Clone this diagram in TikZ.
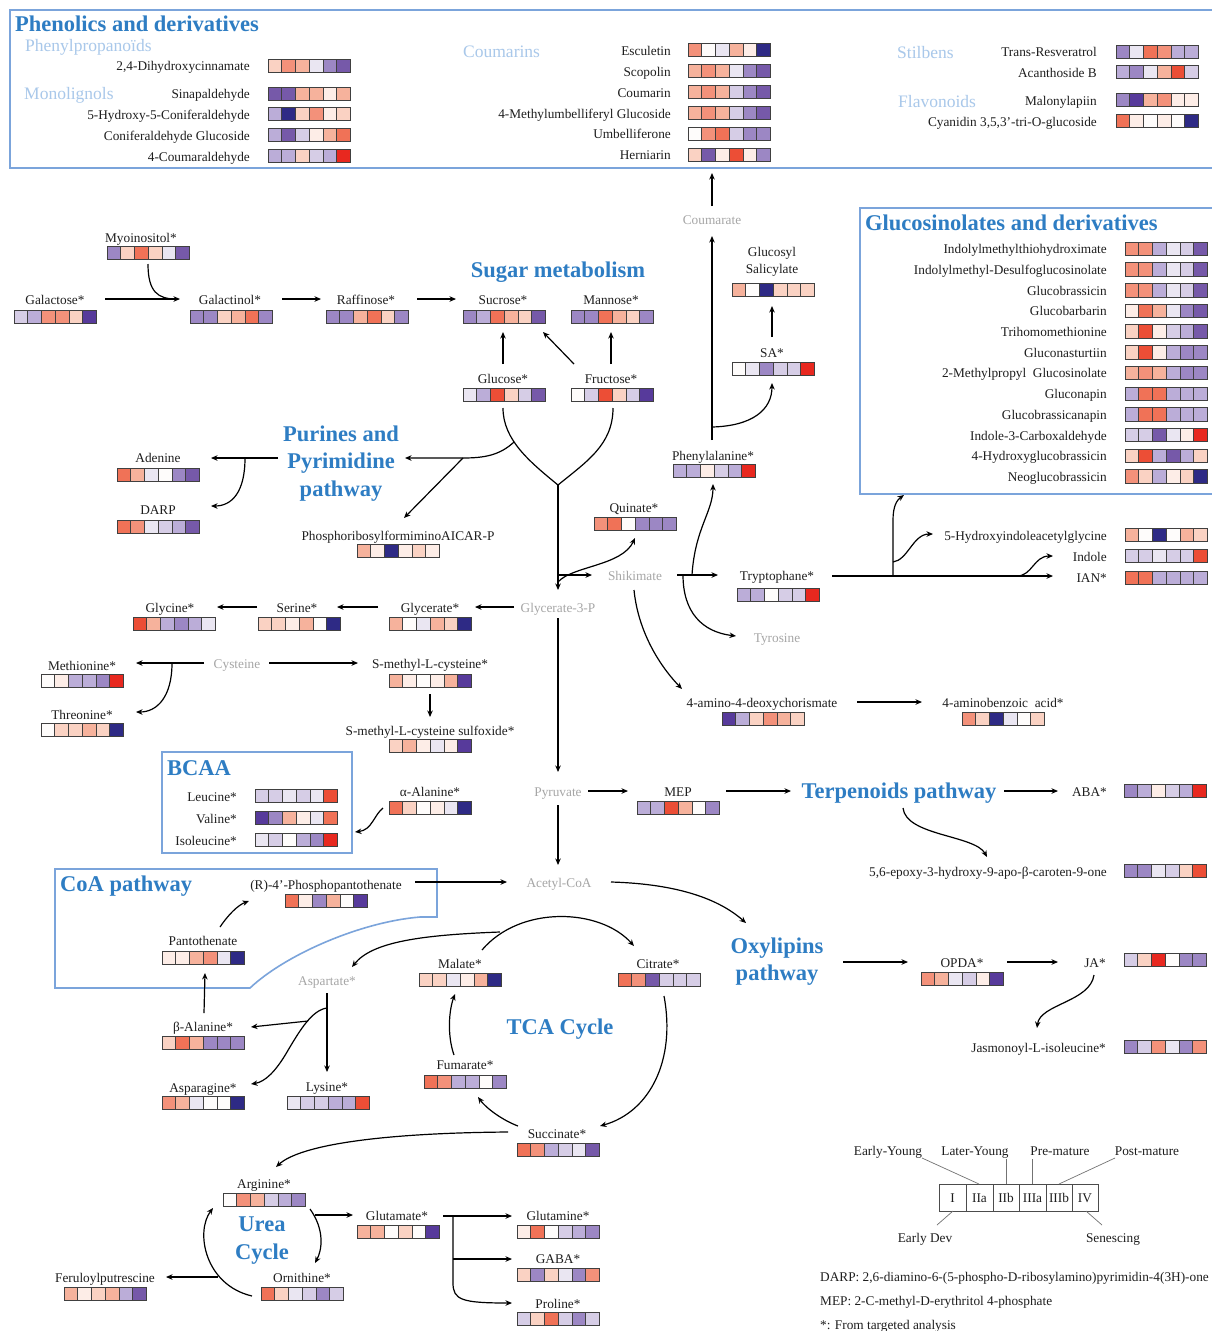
\documentclass[tikz,border=0pt]{standalone}
\usepackage{fontspec}
\setmainfont{Liberation Serif}
\usetikzlibrary{arrows.meta}
\definecolor{wh}{HTML}{FEFCFB}
\definecolor{r0}{HTML}{FDEDE7}
\definecolor{r1}{HTML}{FAD2C3}
\definecolor{r2}{HTML}{F6B29C}
\definecolor{r3}{HTML}{F3917A}
\definecolor{r4}{HTML}{F07257}
\definecolor{r5}{HTML}{EC4E36}
\definecolor{r6}{HTML}{E8281F}
\definecolor{b0}{HTML}{EAE6F2}
\definecolor{b1}{HTML}{D6CDE6}
\definecolor{b2}{HTML}{BBADD8}
\definecolor{b3}{HTML}{9C87C4}
\definecolor{b4}{HTML}{7659A9}
\definecolor{b5}{HTML}{573A9B}
\definecolor{b6}{HTML}{2E2A85}
\definecolor{titleblue}{HTML}{2E7DC3}
\definecolor{catblue}{HTML}{A9C8EA}
\definecolor{boxblue}{HTML}{7BA4DB}
\definecolor{greytxt}{HTML}{A6A6A6}
\definecolor{txt}{HTML}{1E1E1E}
\tikzset{
 lbl/.style={font=\fontsize{13.3}{16}\selectfont, text=txt, inner sep=0pt, text height=12pt, text depth=2pt},
 lblm/.style={font=\fontsize{13.3}{17}\selectfont, text=txt, inner sep=0pt, align=center},
 gry/.style={lbl, text=greytxt},
 ttl/.style={font=\fontsize{22.5}{27.5}\selectfont\bfseries, text=titleblue, inner sep=0pt, align=center, yshift=-2.5pt},
 cat/.style={font=\fontsize{17.5}{20}\selectfont, text=catblue, inner sep=0pt, yshift=-2pt},
 arr/.style={line width=1.2pt, -{Stealth[length=6.5pt,width=5.5pt]}},
 ln/.style={line width=1.2pt},
 boxl/.style={draw=boxblue, line width=1.6pt},
 hmline/.style={draw=black!75, line width=0.7pt},
 legl/.style={draw=black!70, line width=0.9pt},
 legt/.style={draw=black!55, line width=0.7pt}
}
\newcommand\hmap[3]{%
 \foreach \cc [count=\ii from 0] in {#3} {\fill[fill=\cc] ({#1+\ii*13.75},{#2}) rectangle ++(13.75,13.5);}
 \foreach \ii in {1,...,5} {\draw[hmline] ({#1+\ii*13.75},{#2}) -- ++(0,13.5);}
 \draw[hmline] ({#1},{#2}) rectangle ++(82.5,13.5);
}
\begin{document}
\begin{tikzpicture}[x=1pt,y=-1pt]
\useasboundingbox (0,0) rectangle (1211,1331);
\fill[white] (0,0) rectangle (1211,1331);

% ================= Phenolics box
\draw[boxl] (10,10) rectangle (1216,168);
\node[ttl,anchor=west] (tphen) at (15,21) {Phenolics and derivatives};
\node[cat,anchor=west] (cphen) at (25,45) {Phenylpropanoïds};
\node[cat,anchor=west] (cmono) at (24,93) {Monolignols};
\node[cat,anchor=west] (ccoum) at (463,50) {Coumarins};
\node[cat,anchor=west] (cstil) at (897,51) {Stilbens};
\node[cat,anchor=west] (cflav) at (898,100) {Flavonoids};
\node[lbl,anchor=east] (dhc) at (250,65) {2,4-Dihydroxycinnamate}; \hmap{268}{59}{r1,r3,r2,b0,b3,b4}
\node[lbl,anchor=east] (sin) at (250,93) {Sinapaldehyde}; \hmap{268}{87}{b4,b4,r2,r2,r0,r2}
\node[lbl,anchor=east] (hcon) at (250,114) {5-Hydroxy-5-Coniferaldehyde}; \hmap{268}{107}{b2,b6,r1,r3,r0,r1}
\node[lbl,anchor=east] (cong) at (250,135) {Coniferaldehyde Glucoside}; \hmap{268}{128}{b2,b4,b1,r0,r2,r4}
\node[lbl,anchor=east] (cmal) at (250,156) {4-Coumaraldehyde}; \hmap{268}{149}{b2,b2,r1,b1,b2,r6}
\node[lbl,anchor=east] (esc) at (671,50) {Esculetin}; \hmap{688}{43}{r3,wh,b0,r2,r0,b6}
\node[lbl,anchor=east] (scop) at (671,71) {Scopolin}; \hmap{688}{64}{r2,r3,r2,b0,b3,b4}
\node[lbl,anchor=east] (coumn) at (671,92) {Coumarin}; \hmap{688}{85}{r2,r3,r2,b1,b3,b4}
\node[lbl,anchor=east] (mug) at (671,113) {4-Methylumbelliferyl Glucoside}; \hmap{688}{106}{r2,r3,r2,b1,b3,b4}
\node[lbl,anchor=east] (umb) at (671,133) {Umbelliferone}; \hmap{688}{127}{wh,r3,r4,b1,b3,b3}
\node[lbl,anchor=east] (hern) at (671,154) {Herniarin}; \hmap{688}{148}{r1,b4,r0,r5,r0,b3}
\node[lbl,anchor=east] (tres) at (1097,51) {Trans-Resveratrol}; \hmap{1116}{45}{b3,b0,r4,r3,b2,b2}
\node[lbl,anchor=east] (acan) at (1097,72) {Acanthoside B}; \hmap{1116}{65}{b2,b3,b0,r2,r5,b1}
\node[lbl,anchor=east] (malo) at (1097,100) {Malonylapiin}; \hmap{1116}{93}{b3,b5,r2,r3,r0,r0}
\node[lbl,anchor=east] (cyan) at (1097,121) {Cyanidin 3,5,3’-tri-O-glucoside}; \hmap{1116}{114}{r4,r0,wh,r0,wh,b6}

% ================= Sugar
\node[ttl] (tsugar) at (558,270) {Sugar metabolism};
\node[lbl] (myo) at (141,237) {Myoinositol*}; \hmap{107}{246}{b3,r1,r4,r1,b0,b4}
\node[lbl] (galac) at (55,299) {Galactose*}; \hmap{14}{310}{b1,b2,r3,r3,r1,b5}
\node[lbl] (galtol) at (230,299) {Galactinol*}; \hmap{190}{310}{b3,b3,r1,r2,r4,b3}
\node[lbl] (raff) at (366,299) {Raffinose*}; \hmap{326}{310}{b3,b3,r2,r4,r1,b3}
\node[lbl] (sucr) at (503,299) {Sucrose*}; \hmap{463}{310}{b3,b2,r4,r2,r1,b4}
\node[lbl] (mann) at (611,299) {Mannose*}; \hmap{571}{310}{b3,b3,r4,r2,r1,b3}
\node[lbl] (gluc) at (503,378) {Glucose*}; \hmap{463}{388}{b0,b2,r5,r1,b1,b4}
\node[lbl] (fruc) at (611,378) {Fructose*}; \hmap{571}{388}{wh,b1,r5,r1,b1,b5}

\coordinate (c1) at (105,299); \coordinate (c2) at (180,299);
\draw[arr] (c1) -- (c2);
\draw[ln] (148,264) .. controls (148,292) and (158,299) .. (176,299);
\draw[arr] (282,299) -- (321,299);
\draw[arr] (417,299) -- (456,299);
\draw[arr] (503,364) -- (503,332);
\draw[arr] (611,364) -- (611,332);
\draw[arr] (574,364) -- (543,332);
\coordinate (yj) at (558,485);
\draw[ln] (503,408) .. controls (503,440) and (530,462) .. (yj);
\draw[ln] (613,408) .. controls (613,445) and (586,462) .. (yj);
\draw[arr] (yj) -- (558,590);

% ================= Purines
\node[ttl] (tpur) at (341,461) {Purines and\\Pyrimidine\\pathway};
\node[lbl] (aden) at (158,457) {Adenine}; \hmap{117}{468}{r4,r2,b0,wh,b3,b4}
\node[lbl] (darp) at (158,509) {DARP}; \hmap{117}{520}{r4,r3,b0,b1,b2,b4}
\node[lbl] (aicar) at (398,535) {PhosphoribosylformiminoAICAR-P}; \hmap{357}{544}{r2,r0,b6,r0,r1,r0}
\coordinate (pj) at (463,458);
\draw[arr] (514,442) .. controls (500,455) and (485,458) .. (pj) -- (405,458);
\draw[arr] (pj) -- (404,518);
\draw[arr] (278,458) -- (211,458);
\draw[arr] (245,458) .. controls (245,492) and (232,506) .. (211,506);

% ================= Phenylalanine / SA / Coumarate
\node[gry] (coum) at (712,219) {Coumarate};
\draw[arr] (712,206) -- (712,173);
\node[lblm] (gsal) at (772,262) {Glucosyl\\Salicylate}; \hmap{732}{283}{r2,wh,b6,r1,r1,r1}
\node[lbl] (sa) at (772,352) {SA*}; \hmap{732}{362}{wh,b0,b3,b1,b1,r6}
\node[lbl] (phe) at (713,455) {Phenylalanine*}; \hmap{673}{464}{b2,b2,r0,b1,b2,r6}
\node[lbl] (quin) at (634,507) {Quinate*}; \hmap{594}{517}{r3,r4,wh,b3,b3,b3}
\draw[arr] (712,440) -- (712,236);
\draw[arr] (712,427) .. controls (752,426) and (772,410) .. (772,383);
\draw[arr] (772,337) -- (772,306);

% ================= Glucosinolates
\draw[boxl] (860,208) rectangle (1216,494);
\node[ttl,anchor=west] (tglu) at (865,220) {Glucosinolates and derivatives};
\foreach \t/\cols [count=\k from 0] in {
 Indolylmethylthiohydroximate/{r3,r3,b2,b0,b1,b4},
 Indolylmethyl-Desulfoglucosinolate/{r3,r3,b2,b0,b1,b4},
 Glucobrassicin/{r3,r3,b2,b0,b1,b4},
 Glucobarbarin/{r0,r4,r2,b0,b3,b4},
 Trihomomethionine/{r1,r5,r0,b1,b2,b4},
 Gluconasturtiin/{r1,r5,r0,b2,b3,b3},
 2-Methylpropyl\ \ Glucosinolate/{r2,r3,r2,b2,b3,b3},
 Gluconapin/{b2,r4,r4,b2,b2,b2},
 Glucobrassicanapin/{b2,r4,r4,b2,b2,b2},
 Indole-3-Carboxaldehyde/{b1,b1,b4,b0,r0,r6},
 4-Hydroxyglucobrassicin/{r1,r5,b2,b4,b2,r1},
 Neoglucobrassicin/{r3,r1,b2,r0,r1,b6}} {
 \node[lbl,anchor=east] (gs\k) at (1107,{248.75+\k*20.7}) {\t};
 \edef\tmphm{\noexpand\hmap{1125}{242+\k*20.7}{\cols}}\tmphm
}
\node[lbl,anchor=east] (hiag) at (1107,535) {5-Hydroxyindoleacetylglycine}; \hmap{1125}{528}{r2,wh,b6,wh,r2,r1}
\node[lbl,anchor=east] (indole) at (1107,556) {Indole}; \hmap{1125}{549}{b1,b1,b0,b1,b1,r5}
\node[lbl,anchor=east] (ian) at (1107,577) {IAN*}; \hmap{1125}{571}{r4,r4,b2,b2,b2,b2}

% ================= Shikimate
\node[gry] (shik) at (635,575) {Shikimate};
\node[lbl] (trp) at (777,575) {Tryptophane*}; \hmap{737}{588}{b2,b2,wh,b1,b1,r6}
\node[gry] (tyr) at (777,637) {Tyrosine};
\node[lbl] (adc) at (762,702) {4-amino-4-deoxychorismate}; \hmap{722}{712}{b5,b2,r1,r3,r2,r1}
\node[lbl] (pab) at (1003,702) {4-aminobenzoic\ \ acid*}; \hmap{962}{712}{r3,r1,b6,b0,wh,r1}
\draw[arr] (558,575) -- (592,575);
\draw[arr] (558,582) .. controls (572,566) and (622,566) .. (635,538);
\draw[arr] (677,575) -- (718,575);
\draw[arr] (683,575) .. controls (683,612) and (702,632) .. (736,636);
\draw[arr] (692,575) .. controls (695,528) and (713,512) .. (713,484);
\draw[arr] (634,590) .. controls (638,630) and (658,664) .. (682,689);
\draw[arr] (857,702) -- (922,702);
\draw[arr] (832,576) -- (1053,576);
\draw[arr] (893,576) -- (893,520) .. controls (893,506) and (897,500) .. (904,495);
\draw[arr] (893,562) .. controls (908,560) and (913,534) .. (933,534);
\draw[arr] (1017,576) .. controls (1032,576) and (1034,556) .. (1053,556);

% ================= Amino acids
\node[gry] (g3p) at (558,607) {Glycerate-3-P};
\node[lbl] (glyc) at (430,607) {Glycerate*}; \hmap{389}{617}{r2,wh,b0,r2,r1,b6}
\node[lbl] (ser) at (297,607) {Serine*}; \hmap{258}{617}{r1,r1,r0,r2,wh,b6}
\node[lbl] (gly) at (170,607) {Glycine*}; \hmap{133}{617}{r5,r2,b2,b3,b2,b0}
\node[gry] (cys) at (237,663) {Cysteine};
\node[lbl] (met) at (82,665) {Methionine*}; \hmap{41}{674}{wh,r0,b2,b2,b3,r6}
\node[lbl] (thr) at (82,714) {Threonine*}; \hmap{41}{723}{wh,r1,r1,r2,r1,b6}
\node[lbl] (smc) at (430,663) {S-methyl-L-cysteine*}; \hmap{389}{674}{r2,r0,wh,r0,r2,b5}
\node[lbl] (smcs) at (430,730) {S-methyl-L-cysteine sulfoxide*}; \hmap{389}{739}{r1,r2,r0,b0,r0,b5}
\node[lbl] (ala) at (430,791) {α-Alanine*}; \hmap{389}{801}{r4,r1,wh,r0,b0,b6}
\draw[arr] (514,607) -- (475,607);
\draw[arr] (378,607) -- (337,607);
\draw[arr] (257,607) -- (217,607);
\draw[arr] (204,663) -- (136,663);
\draw[arr] (172,663) .. controls (172,697) and (157,712) .. (136,712);
\draw[arr] (269,663) -- (358,663);
\draw[arr] (430,694) -- (430,717);
\draw[arr] (558,618) -- (558,772);

% BCAA
\draw[boxl] (162,752) rectangle (352,853);
\node[ttl,anchor=west] (tbcaa) at (167,766) {BCAA};
\node[lbl,anchor=east] (leu) at (237,796) {Leucine*}; \hmap{255}{789}{b1,b1,b0,b1,b0,r5}
\node[lbl,anchor=east] (val) at (237,818) {Valine*}; \hmap{255}{811}{b5,b3,r2,r0,b0,r4}
\node[lbl,anchor=east] (ile) at (237,840) {Isoleucine*}; \hmap{255}{833}{b0,b1,wh,b2,b3,r6}
\draw[arr] (383,808) .. controls (374,815) and (372,830) .. (355,832);

% ================= Pyruvate / Terpenoids
\node[gry] (pyr) at (558,791) {Pyruvate};
\node[lbl] (mep) at (678,791) {MEP}; \hmap{637}{801}{b2,b2,r5,r2,wh,b3}
\node[ttl] (tterp) at (899,791) {Terpenoids pathway};
\node[lbl,anchor=east] (aba) at (1107,791) {ABA*}; \hmap{1124}{784}{b3,b2,r0,b1,b2,r6}
\node[lbl,anchor=east] (epox) at (1107,871) {5,6-epoxy-3-hydroxy-9-apo-β-caroten-9-one}; \hmap{1124}{864}{b3,b3,b0,b1,r1,r5}
\draw[arr] (588,791) -- (628,791);
\draw[arr] (726,791) -- (791,791);
\draw[arr] (1004,791) -- (1058,791);
\draw[arr] (903,808) .. controls (906,836) and (975,835) .. (987,857);
\draw[arr] (558,805) -- (558,865);

% ================= CoA
\node[gry] (acoa) at (559,882) {Acetyl-CoA};
\draw[boxl] (55,869) -- (437,869) -- (437,917) -- (420,917) .. controls (360,922) and (285,955) .. (250,988) -- (55,988) -- cycle;
\node[ttl,anchor=west] (tcoa) at (60,884) {CoA pathway};
\node[lbl] (ppan) at (326,884) {(R)-4’-Phosphopantothenate}; \hmap{285}{894}{r4,r0,b3,r2,wh,b5}
\node[lbl] (pan) at (203,940) {Pantothenate}; \hmap{162}{951}{r0,r0,r2,r3,b0,b6}
\node[lbl] (bala) at (203,1026) {β-Alanine*}; \hmap{162}{1036}{r1,r4,r2,b3,b3,b3}
\node[gry] (asp) at (327,980) {Aspartate*};
\node[lbl] (asn) at (203,1087) {Asparagine*}; \hmap{162}{1096}{r3,r2,b0,wh,wh,b6}
\node[lbl] (lys) at (327,1086) {Lysine*}; \hmap{287}{1096}{b0,b1,b1,b2,b2,r5}
\draw[arr] (415,882) -- (507,882);
\draw[arr] (611,882) .. controls (680,884) and (720,900) .. (746,923);
\draw[arr] (220,927) .. controls (228,915) and (238,905) .. (249,901);
\draw[arr] (204,1013) -- (205,973);
\draw[arr] (327,993) -- (327,1072);
\draw[arr] (327,1008) .. controls (312,1010) and (300,1030) .. (287,1052) .. controls (276,1071) and (265,1082) .. (251,1084);
\draw[arr] (308,1021) -- (251,1027);

% ================= TCA
\node[lbl] (mal) at (460,963) {Malate*}; \hmap{419}{973}{r1,r1,b0,r0,r2,b6}
\node[lbl] (cit) at (658,963) {Citrate*}; \hmap{618}{973}{r4,r3,b4,b1,b1,b1}
\node[ttl] (ttca) at (560,1027) {TCA Cycle};
\node[lbl] (fum) at (465,1064) {Fumarate*}; \hmap{424}{1075}{r4,r3,b2,b2,wh,b3}
\node[lbl] (suc) at (557,1133) {Succinate*}; \hmap{517}{1143}{r4,r3,b2,b1,b0,b4}
\draw[arr] (482,950) .. controls (520,905) and (600,908) .. (634,946);
\draw[arr] (500,932) .. controls (420,935) and (372,942) .. (352,967);
\draw[arr] (664,996) .. controls (676,1060) and (650,1112) .. (600,1126);
\draw[arr] (518,1126) .. controls (502,1120) and (486,1108) .. (478,1097);
\draw[arr] (454,1055) .. controls (447,1035) and (449,1010) .. (455,994);
\draw[arr] (508,1132) .. controls (380,1133) and (300,1145) .. (276,1167);

% ================= Oxylipins
\node[ttl] (toxy) at (777,959) {Oxylipins\\pathway};
\node[lbl] (opda) at (962,962) {OPDA*}; \hmap{921}{972}{r3,r2,b0,b1,r0,b5}
\node[lbl] (ja) at (1095,962) {JA*}; \hmap{1124}{953}{b1,r1,r6,wh,b3,b3}
\node[lbl,anchor=east] (jaile) at (1106,1047) {Jasmonoyl-L-isoleucine*}; \hmap{1124}{1040}{b3,b1,r3,b0,b3,r3}
\draw[arr] (843,962) -- (908,962);
\draw[arr] (1007,962) -- (1058,962);
\draw[arr] (1094,975) .. controls (1090,1002) and (1040,1004) .. (1037,1028);

% ================= Urea cycle
\node[lbl] (arg) at (264,1183) {Arginine*}; \hmap{223}{1193}{wh,r3,r2,b1,b2,b3}
\node[ttl] (turea) at (262,1238) {Urea\\Cycle};
\node[lbl] (glu) at (397,1215) {Glutamate*}; \hmap{357}{1225}{r2,r2,wh,r1,wh,b5}
\node[lbl] (orn) at (302,1277) {Ornithine*}; \hmap{261}{1287}{r4,r1,b0,b1,b3,b1}
\node[lbl] (fer) at (105,1277) {Feruloylputrescine}; \hmap{64}{1287}{r2,r0,r1,r2,b2,b4}
\node[lbl] (gln) at (558,1215) {Glutamine*}; \hmap{517}{1225}{r0,r4,wh,b1,b2,b3}
\node[lbl] (gaba) at (558,1258) {GABA*}; \hmap{517}{1268}{r1,b3,r1,b0,b3,r3}
\node[lbl] (pro) at (558,1303) {Proline*}; \hmap{517}{1312}{b1,r1,r4,b1,b3,b1}
\draw[arr] (310,1209) .. controls (325,1230) and (322,1250) .. (315,1263);
\draw[arr] (315,1215) -- (353,1215);
\draw[arr] (252,1296) .. controls (205,1285) and (195,1232) .. (213,1208);
\draw[arr] (218,1277) -- (166,1277);
\draw[arr] (443,1216) -- (512,1216);
\draw[arr] (453,1216) -- (453,1283) .. controls (453,1300) and (462,1303) .. (512,1303);
\draw[arr] (453,1259) -- (512,1259);

% ================= Legend
\draw[legl] (939,1184) rectangle (1098,1211);
\foreach \xx in {966,993,1019,1046,1072} {\draw[legl] (\xx,1184) -- (\xx,1211);}
\node[lbl] (sI) at (952.5,1197.5) {I};
\node[lbl] (sIIa) at (979.5,1197.5) {IIa};
\node[lbl] (sIIb) at (1006,1197.5) {IIb};
\node[lbl] (sIIIa) at (1032.5,1197.5) {IIIa};
\node[lbl] (sIIIb) at (1059,1197.5) {IIIb};
\node[lbl] (sIV) at (1085,1197.5) {IV};
\node[lbl] (ley) at (888,1150) {Early-Young};
\node[lbl] (lly) at (975,1150) {Later-Young};
\node[lbl] (lpm) at (1060,1150) {Pre-mature};
\node[lbl] (lpo) at (1147,1150) {Post-mature};
\node[lbl] (led) at (925,1237) {Early Dev};
\node[lbl] (lsen) at (1113,1237) {Senescing};
\draw[legt] (922,1158) -- (979,1184);
\draw[legt] (1006,1159) -- (1006,1184);
\draw[legt] (1032,1159) -- (1032,1184);
\draw[legt] (1115,1158) -- (1059,1184);
\draw[legt] (953,1211) -- (937,1225);
\draw[legt] (1086,1211) -- (1102,1225);

\node[lbl,anchor=west] (fn1) at (820,1276) {DARP: 2,6-diamino-6-(5-phospho-D-ribosylamino)pyrimidin-4(3H)-one};
\node[lbl,anchor=west] (fn2) at (820,1300) {MEP: 2-C-methyl-D-erythritol 4-phosphate};
\node[lbl,anchor=west] (fn3) at (820,1324) {*: From targeted analysis};
\end{tikzpicture}
\end{document}
